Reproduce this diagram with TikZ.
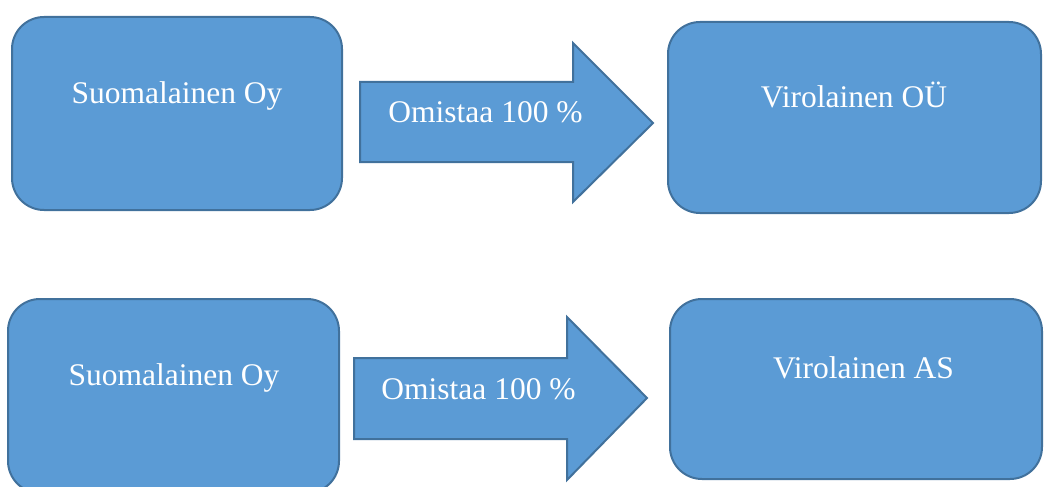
\documentclass[tikz,border=0pt]{standalone}
\usepackage{fontspec}
\setmainfont{Liberation Serif}
\definecolor{boxfill}{HTML}{5B9BD5}
\definecolor{boxline}{HTML}{41719C}
\begin{document}
\begin{tikzpicture}[x=1pt,y=-1pt,
  box/.style={draw=boxline,fill=boxfill,line width=2pt,rounded corners=32pt,
    rectangle,inner sep=0pt,outer sep=0pt},
  blockarrow/.style={draw=boxline,fill=boxfill,line width=2pt,line join=miter},
  lbl/.style={text=white,anchor=base,inner sep=0pt,font=\fontsize{31.5}{36}\selectfont}]
\useasboundingbox (0,0) rectangle (1045,487);
\clip (0,0) rectangle (1045,487);
% boxes
\node[box,minimum width=330pt,minimum height=193pt] (b1) at (177,113.5) {};
\node[box,minimum width=373pt,minimum height=191pt] (b2) at (854.5,117.5) {};
\node[box,minimum width=331pt,minimum height=194pt] (b3) at (173.5,396) {};
\node[box,minimum width=372pt,minimum height=180pt] (b4) at (856,389) {};
% block arrows
\coordinate (a1) at (360,82);
\coordinate (a2) at (354,358);
\draw[blockarrow] (a1) -- ++(213,0) -- ++(0,-39) -- ++(80,80) -- ++(-80,79) -- ++(0,-40) -- ++(-213,0) -- cycle;
\draw[blockarrow] (a2) -- ++(213,0) -- ++(0,-41) -- ++(80,81) -- ++(-80,82) -- ++(0,-41) -- ++(-213,0) -- cycle;
% labels
\node[lbl] (t1) at (177,103) {Suomalainen Oy};
\node[lbl] (t2) at (854,107) {Virolainen OÜ};
\node[lbl] (t3) at (485.5,122) {Omistaa 100 \%};
\node[lbl] (t4) at (174,385) {Suomalainen Oy};
\node[lbl] (t5) at (478.5,399) {Omistaa 100 \%};
\node[lbl] (t6) at (863.5,378) {Virolainen AS};
\end{tikzpicture}
\end{document}
